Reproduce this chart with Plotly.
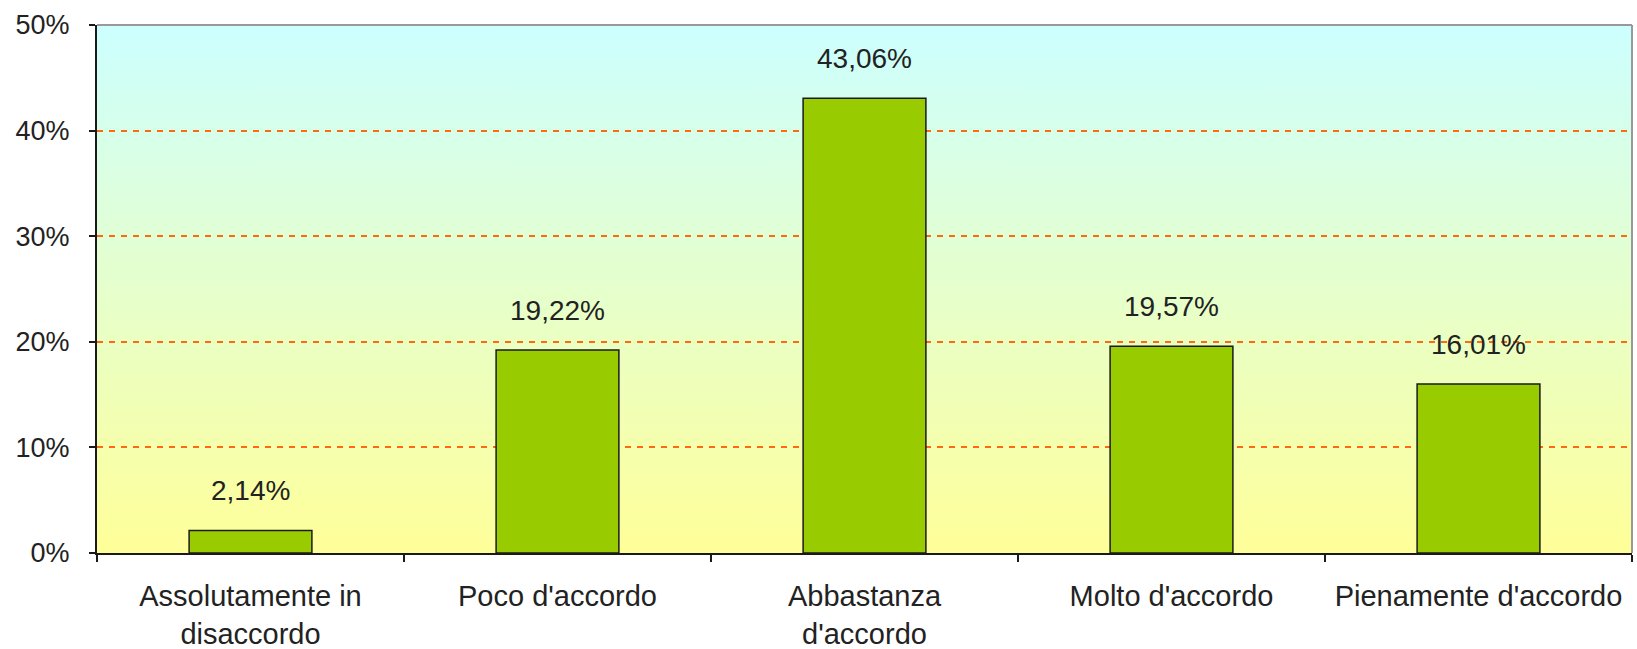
import base64
import plotly.graph_objects as go

# Survey responses: share of answers per agreement level
categories = [
    "Assolutamente in<br>disaccordo",
    "Poco d'accordo",
    "Abbastanza<br>d'accordo",
    "Molto d'accordo",
    "Pienamente d'accordo",
]
shares = [2.14, 19.22, 43.06, 19.57, 16.01]
y_ticks = [0, 10, 20, 30, 40, 50]
y_tick_labels = [f"{t}%" for t in y_ticks]

FONT = "Liberation Sans, Arial, sans-serif"
TEXT = "#222222"


def it_pct(v):
    return f"{v:.2f}".replace(".", ",") + "%"


# Vertical cyan-to-yellow gradient for the plot area
svg = (
    '<svg xmlns="http://www.w3.org/2000/svg" width="10" height="100" preserveAspectRatio="none">'
    '<defs><linearGradient id="g" x1="0" y1="0" x2="0" y2="1">'
    '<stop offset="0" stop-color="#CCFFFF"/><stop offset="1" stop-color="#FFFF99"/>'
    '</linearGradient></defs><rect width="10" height="100" fill="url(#g)"/></svg>'
)
bg_uri = "data:image/svg+xml;base64," + base64.b64encode(svg.encode()).decode()

fig = go.Figure(
    go.Bar(
        x=categories,
        y=shares,
        marker=dict(color="#99CC00", line=dict(color="#1a1a1a", width=1.5)),
        hoverinfo="skip",
    )
)

for cat, v in zip(categories, shares):
    fig.add_annotation(
        x=cat, y=v, text=it_pct(v), showarrow=False,
        yanchor="bottom", yshift=22,
        font=dict(family=FONT, size=28, color=TEXT),
    )

fig.add_layout_image(
    dict(source=bg_uri, xref="paper", yref="paper", x=0, y=1,
         sizex=1, sizey=1, sizing="stretch", layer="below")
)

# grey frame on the top and right of the plot area
fig.add_shape(type="line", xref="paper", yref="paper", x0=0, x1=1, y0=1, y1=1,
              line=dict(color="#999999", width=2))
fig.add_shape(type="line", xref="paper", yref="paper", x0=1, x1=1, y0=0, y1=1,
              line=dict(color="#999999", width=2))

fig.update_layout(
    width=1637, height=649,
    margin=dict(l=97, r=5, t=25, b=96),
    paper_bgcolor="white",
    plot_bgcolor="rgba(0,0,0,0)",
    bargap=0.6,
    showlegend=False,
    font=dict(family=FONT, size=28, color=TEXT),
    xaxis=dict(
        showline=True, linecolor="#1a1a1a", linewidth=2,
        ticks="outside", tickson="boundaries", ticklen=7, tickwidth=2, tickcolor="#1a1a1a",
        showgrid=False, ticklabelstandoff=16, tickangle=0, automargin=False,
        tickfont=dict(family=FONT, size=29, color=TEXT),
    ),
    yaxis=dict(
        range=[0, 50], tickvals=y_ticks, ticktext=y_tick_labels,
        showline=True, linecolor="#1a1a1a", linewidth=2,
        ticks="outside", ticklen=6, tickwidth=2, tickcolor="#1a1a1a",
        showgrid=True, gridcolor="#FF6A10", gridwidth=2, griddash="6px,6px",
        zeroline=False, ticklabelstandoff=14, automargin=False,
        tickfont=dict(family=FONT, size=27, color=TEXT),
    ),
)

fig.write_html("out.html")
